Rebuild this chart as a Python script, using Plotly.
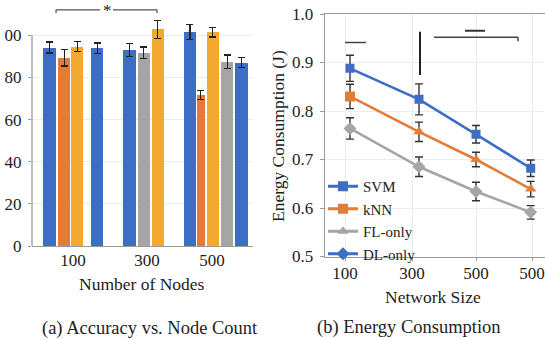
import plotly.graph_objects as go

# ---------------- data: (a) accuracy vs node count ----------------
group_labels = ["100", "300", "500"]
group_tick_pos = [3.04, 8.52, 13.33]          # slot position of each group label
acc_pos = [1.31, 2.385, 3.35, 4.83, 7.24, 8.28, 9.32, 11.70, 12.50, 13.39, 14.46, 15.50]
acc_color_key = ["blue", "orange", "yellow", "blue",
                 "blue", "gray", "yellow",
                 "blue", "orange", "yellow", "gray", "blue"]
acc_val = [94.2, 89.4, 94.6, 93.9, 93.1, 91.8, 102.9, 101.5, 71.7, 101.5, 87.5, 87.0]
acc_err = [2.6, 3.9, 2.4, 2.5, 3.0, 2.7, 4.3, 3.5, 2.0, 2.3, 3.1, 2.4]
acc_width = [0.926, 0.926, 0.926, 0.926, 0.926, 0.926, 0.926, 0.926, 0.615, 0.926, 0.926, 0.926]
acc_ticks = [0, 20, 40, 60, 80, 100]
acc_ticktext = ["0", "20", "40", "60", "80", "00"]

# ---------------- data: (b) energy consumption ----------------
size_labels = ["100", "300", "500", "500"]
size_tick_pos = [0.20, 0.87, 1.51, 2.07]
size_pos = [0.25, 0.94, 1.51, 2.057]
svm = [0.888, 0.824, 0.752, 0.682]
svm_err = [0.027, 0.032, 0.018, 0.017]
knn = [0.830, 0.757, 0.700, 0.639]
knn_err = [0.025, 0.020, 0.015, 0.016]
fl = [0.764, 0.685, 0.634, 0.591]
fl_err = [0.022, 0.020, 0.019, 0.014]
energy_ticks = [0.5, 0.6, 0.7, 0.8, 0.9, 1.0]

colors = {"blue": "#3C6EC5", "orange": "#E47C37", "yellow": "#F2A930", "gray": "#A5A5A5"}
FONT = "'Liberation Serif', 'Times New Roman', serif"
TXT = "#222222"
AX = "#9a9a9a"

W, H = 545, 339
def px_x(p):
    return p / W
def px_y(p):
    return 1 - p / H

fig = go.Figure()

# (a) bars
fig.add_trace(go.Bar(
    x=acc_pos, y=acc_val, width=acc_width,
    marker=dict(color=[colors[k] for k in acc_color_key], line=dict(width=0)),
    error_y=dict(type="data", array=acc_err, color="#222222", thickness=1.3, width=3.5),
    xaxis="x", yaxis="y", showlegend=False,
))

# (b) lines
err_style = dict(color="#333333", thickness=1.4, width=4)
fig.add_trace(go.Scatter(
    x=size_pos, y=fl, mode="lines+markers", name="FL-only",
    line=dict(color=colors["gray"], width=2.6),
    marker=dict(symbol="diamond", size=10, color=colors["gray"]),
    error_y=dict(type="data", array=fl_err, **err_style),
    xaxis="x2", yaxis="y2", showlegend=False,
))
fig.add_trace(go.Scatter(
    x=size_pos, y=knn, mode="lines+markers", name="kNN",
    line=dict(color=colors["orange"], width=2.6),
    marker=dict(symbol=["square", "triangle-up", "triangle-up", "triangle-up"], size=10,
                color=colors["orange"]),
    error_y=dict(type="data", array=knn_err, **err_style),
    xaxis="x2", yaxis="y2", showlegend=False,
))
fig.add_trace(go.Scatter(
    x=size_pos, y=svm, mode="lines+markers", name="SVM",
    line=dict(color=colors["blue"], width=2.6),
    marker=dict(symbol="square", size=9, color=colors["blue"]),
    error_y=dict(type="data", array=svm_err, **err_style),
    xaxis="x2", yaxis="y2", showlegend=False,
))

# legend entries
legend_items = [("SVM", colors["blue"], "square"), ("kNN", colors["orange"], "square"),
                ("FL-only", colors["gray"], "triangle-up"), ("DL-only", colors["blue"], "diamond")]
for name, c, sym in legend_items:
    fig.add_trace(go.Scatter(
        x=[None], y=[None], mode="lines+markers", name=name,
        line=dict(color=c, width=3), marker=dict(symbol=sym, size=10, color=c),
        xaxis="x2", yaxis="y2", showlegend=True,
    ))

tick_font = dict(family=FONT, size=17, color=TXT)

fig.update_layout(
    template="none",
    width=W, height=H, autosize=False,
    margin=dict(l=0, r=0, t=0, b=0, pad=0, autoexpand=False),
    paper_bgcolor="white", plot_bgcolor="white",
    font=dict(family=FONT, color=TXT),
    bargap=0,
    hovermode=False,
    xaxis=dict(domain=[px_x(32), px_x(253)], range=[0, 16.37], automargin=False,
               tickvals=group_tick_pos, ticktext=group_labels, tickfont=tick_font,
               showgrid=False, zeroline=False, showline=True, linecolor=AX, linewidth=1.3,
               ticks="", ticklabelstandoff=-2),
    yaxis=dict(domain=[px_y(246), px_y(5)], range=[0, 114.4], automargin=False,
               tickvals=acc_ticks, ticktext=acc_ticktext, tickfont=tick_font,
               showgrid=True, gridcolor="#ececec", gridwidth=1, zeroline=False,
               showline=False, ticks="outside", ticklen=3, tickcolor=AX,
               ticklabelstandoff=3),
    xaxis2=dict(domain=[px_x(325), 1.0], range=[0, 2.2], anchor="y2", automargin=False,
                tickvals=size_tick_pos, ticktext=size_labels, tickfont=tick_font,
                showgrid=True, gridcolor="#ececec", zeroline=False,
                showline=True, mirror=True, linecolor=AX, linewidth=1.3,
                ticks="outside", ticklen=3, tickcolor=AX, ticklabelstandoff=-2),
    yaxis2=dict(domain=[px_y(256.5), px_y(14)], range=[0.5, 1.0], anchor="x2", automargin=False,
                tickvals=energy_ticks, tickformat=".1f", tickfont=tick_font,
                showgrid=True, gridcolor="#ececec", zeroline=False,
                showline=True, linecolor=AX, linewidth=1.3,
                ticks="outside", ticklen=4, tickcolor=AX, ticklabelstandoff=3),
    legend=dict(x=px_x(323), y=px_y(170), xanchor="left", yanchor="top",
                bgcolor="rgba(0,0,0,0)", borderwidth=0,
                font=dict(family=FONT, size=15, color=TXT),
                tracegroupgap=0, itemwidth=30),
)

# left y-axis line only up to 100
fig.add_shape(type="line", xref="x domain", yref="y", x0=0, x1=0, y0=0, y1=100,
              line=dict(color=AX, width=1.3))

# significance bracket (a)
br = dict(color="#555555", width=1.3)
fig.add_shape(type="line", xref="x", yref="y", x0=1.78, x1=5.04, y0=112.1, y1=112.1, line=br)
fig.add_shape(type="line", xref="x", yref="y", x0=6.0, x1=9.26, y0=112.1, y1=112.1, line=br)
fig.add_shape(type="line", xref="x", yref="y", x0=1.78, x1=1.78, y0=112.1, y1=110.6, line=br)
fig.add_shape(type="line", xref="x", yref="y", x0=9.26, x1=9.26, y0=112.1, y1=110.6, line=br)
fig.add_annotation(x=5.56, y=1.0, xref="x", yref="paper", text="*", showarrow=False,
                   font=dict(family=FONT, size=17, color=TXT), yanchor="top", borderpad=0)

# marks in (b)
mk = dict(color="#444444", width=1.5)
fig.add_shape(type="line", xref="x2", yref="y2", x0=0.20, x1=0.41, y0=0.941, y1=0.941, line=mk)
fig.add_shape(type="line", xref="x2", yref="y2", x0=0.95, x1=0.95, y0=0.874, y1=0.9635,
              line=dict(color="#222222", width=2))
fig.add_shape(type="line", xref="x2", yref="y2", x0=1.09, x1=1.93, y0=0.952, y1=0.952, line=mk)
fig.add_shape(type="line", xref="x2", yref="y2", x0=1.93, x1=1.93, y0=0.952, y1=0.944, line=mk)
fig.add_shape(type="line", xref="x2", yref="y2", x0=1.40, x1=1.60, y0=0.9656, y1=0.9656,
              line=dict(color="#333333", width=2))

# titles and captions
title_font = dict(family=FONT, size=17.5, color=TXT)
cap_font = dict(family=FONT, size=18.5, color=TXT)
fig.add_annotation(x=px_x(142), y=px_y(284), xref="paper", yref="paper", text="Number of Nodes",
                   showarrow=False, font=title_font, xanchor="center", yanchor="middle")
fig.add_annotation(x=px_x(433), y=px_y(297), xref="paper", yref="paper", text="Network Size",
                   showarrow=False, font=title_font, xanchor="center", yanchor="middle")
fig.add_annotation(x=px_x(278), y=px_y(136), xref="paper", yref="paper",
                   text="Energy Consumption (J)", textangle=-90,
                   showarrow=False, font=title_font, xanchor="center", yanchor="middle")
fig.add_annotation(x=px_x(150), y=px_y(328), xref="paper", yref="paper",
                   text="(a) Accuracy vs. Node Count",
                   showarrow=False, font=cap_font, xanchor="center", yanchor="middle")
fig.add_annotation(x=px_x(409), y=px_y(327), xref="paper", yref="paper",
                   text="(b) Energy Consumption",
                   showarrow=False, font=cap_font, xanchor="center", yanchor="middle")

fig.write_html("out.html", config={"displayModeBar": False, "staticPlot": True},
               post_script="document.body.style.margin='0px';document.body.style.overflow='hidden';")
